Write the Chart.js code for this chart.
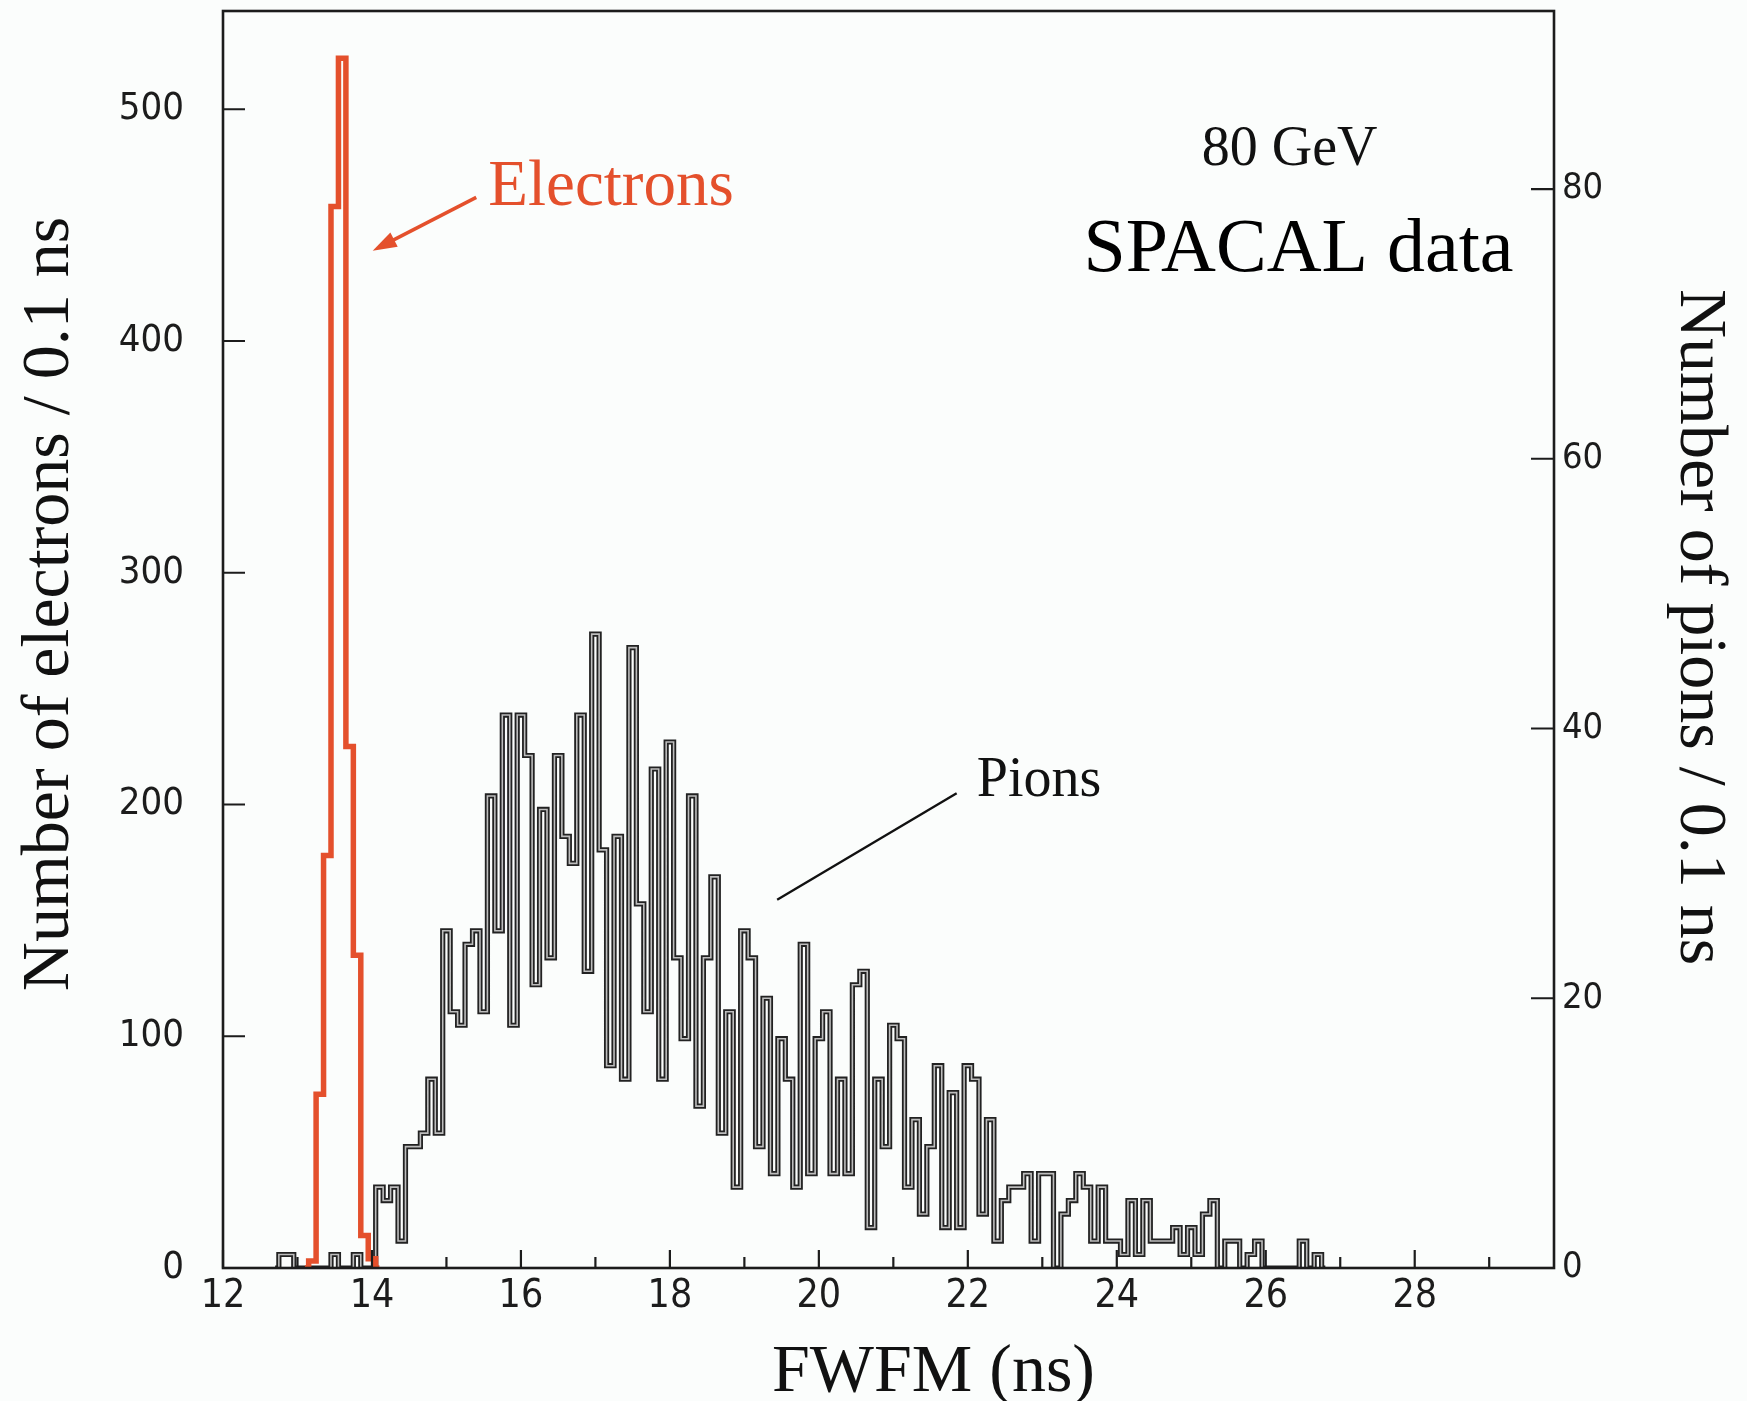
<!DOCTYPE html>
<html>
<head>
<meta charset="utf-8">
<script src="https://cdn.jsdelivr.net/npm/chart.js@4.4.1/dist/chart.umd.min.js"></script>
<style>
  html, body { margin: 0; padding: 0; background: #fbfdfc; }
  canvas { display: block; }
</style>
</head>
<body>
<canvas id="c" width="1747" height="1401"></canvas>
<script>
// FWFM histograms, 0.1 ns bins; each array starts at the given bin centre
const binWidth = 0.1;

const electronStart = 13.1;
const electronCounts = [0, 3, 75, 178, 458, 522, 225, 135, 14, 4, 0];

const pionStart = 12.7;
const pionCounts = [
  0, 1, 1, 0, 0, 0, 0, 0, 1, 0, 0, 1, 0, 0,            // 12.7 - 14.0
  6, 5, 6, 2, 9, 9, 10, 14, 10,                        // 14.1 - 14.9
  25, 19, 18, 24, 25, 19, 35, 25, 41, 18,              // 15.0 - 15.9
  41, 38, 21, 34, 23, 38, 32, 30, 41, 22,              // 16.0 - 16.9
  47, 31, 15, 32, 14, 46, 27, 19, 37, 14,              // 17.0 - 17.9
  39, 23, 17, 35, 12, 23, 29, 10, 19, 6,               // 18.0 - 18.9
  25, 23, 9, 20, 7, 17, 14, 6, 24, 7,                  // 19.0 - 19.9
  17, 19, 7, 14, 7, 21, 22, 3, 14, 9,                  // 20.0 - 20.9
  18, 17, 6, 11, 4, 9, 15, 3, 13, 3,                   // 21.0 - 21.9
  15, 14, 4, 11, 2, 5, 6, 6, 7, 2,                     // 22.0 - 22.9
  7, 7, 0, 4, 5, 7, 6, 2, 6, 2,                        // 23.0 - 23.9
  2, 1, 5, 1, 5, 2, 2, 2, 3, 1,                        // 24.0 - 24.9
  3, 1, 4, 5, 0, 2, 2, 0, 1, 2,                        // 25.0 - 25.9
  0, 0, 0, 0, 0, 2, 0, 1, 0                            // 26.0 - 26.8
];

// axis ticks
const xTicks = [12, 13, 14, 15, 16, 17, 18, 19, 20, 21, 22, 23, 24, 25, 26, 27, 28, 29];
const xLabelled = [12, 14, 16, 18, 20, 22, 24, 26, 28];
const electronTicks = [0, 100, 200, 300, 400, 500];
const pionTicks = [0, 20, 40, 60, 80];

const xRange = [12, 29.87];
const electronRange = [0, 542.4];
const pionRange = [0, 93.2];

function toPoints(start, counts) {
  return counts.map((c, i) => ({ x: Math.round((start + i * binWidth) * 100) / 100, y: c }));
}
const electronPoints = toPoints(electronStart, electronCounts);
const pionPoints = toPoints(pionStart, pionCounts);

const serif = "'Liberation Serif', 'Times New Roman', 'DejaVu Serif', serif";
const narrow = "'Liberation Sans Narrow', 'DejaVu Sans Condensed', 'Roboto Condensed', Roboto, sans-serif";
const red = '#e4502c';
const ink = '#1c1c1c';

// frame, inward ticks, axis titles and annotations
const decor = {
  id: 'decor',
  afterDatasetsDraw(chart) {
    const { ctx, chartArea: a, scales } = chart;
    const { x, y, y2 } = scales;
    ctx.save();

    ctx.strokeStyle = ink;
    ctx.lineWidth = 2.6;
    ctx.strokeRect(a.left, a.top, a.right - a.left, a.bottom - a.top);

    ctx.lineWidth = 2.2;
    ctx.beginPath();
    xTicks.forEach(v => {
      const px = x.getPixelForValue(v);
      const len = xLabelled.includes(v) ? 18 : 11;
      ctx.moveTo(px, a.bottom);
      ctx.lineTo(px, a.bottom - len);
    });
    electronTicks.forEach(v => {
      if (v === 0) return;
      const py = y.getPixelForValue(v);
      ctx.moveTo(a.left, py);
      ctx.lineTo(a.left + 22, py);
    });
    pionTicks.forEach(v => {
      if (v === 0) return;
      const py = y2.getPixelForValue(v);
      ctx.moveTo(a.right, py);
      ctx.lineTo(a.right - 23, py);
    });
    ctx.stroke();

    // axis titles
    ctx.fillStyle = '#111';
    ctx.textAlign = 'center';
    ctx.textBaseline = 'middle';
    ctx.font = '68px ' + serif;

    ctx.save();
    ctx.translate(50, 604);
    ctx.rotate(-Math.PI / 2);
    ctx.fillText('Number of electrons / 0.1 ns', 0, 0);
    ctx.restore();

    ctx.save();
    ctx.translate(1699, 627);
    ctx.rotate(Math.PI / 2);
    ctx.fillText('Number of pions / 0.1 ns', 0, 0);
    ctx.restore();

    ctx.fillText('FWFM (ns)', (a.left + a.right) / 2 + 45, 1373);

    // electron label with arrow
    ctx.fillStyle = red;
    ctx.font = '65px ' + serif;
    ctx.fillText('Electrons', x.getPixelForValue(17.21), y.getPixelForValue(466));

    const ax0 = x.getPixelForValue(15.40), ay0 = y.getPixelForValue(462);
    const ax1 = x.getPixelForValue(14.01), ay1 = y.getPixelForValue(439);
    const ang = Math.atan2(ay1 - ay0, ax1 - ax0);
    const head = 24, half = 8;
    ctx.strokeStyle = red;
    ctx.lineWidth = 3.5;
    ctx.beginPath();
    ctx.moveTo(ax0, ay0);
    ctx.lineTo(ax1 - Math.cos(ang) * head * 0.8, ay1 - Math.sin(ang) * head * 0.8);
    ctx.stroke();
    ctx.fillStyle = red;
    ctx.beginPath();
    ctx.moveTo(ax1, ay1);
    ctx.lineTo(ax1 - Math.cos(ang) * head - Math.sin(ang) * half, ay1 - Math.sin(ang) * head + Math.cos(ang) * half);
    ctx.lineTo(ax1 - Math.cos(ang) * head + Math.sin(ang) * half, ay1 - Math.sin(ang) * head - Math.cos(ang) * half);
    ctx.closePath();
    ctx.fill();

    // pion label with pointer
    ctx.fillStyle = '#111';
    ctx.strokeStyle = '#111';
    ctx.lineWidth = 2.4;
    ctx.beginPath();
    ctx.moveTo(x.getPixelForValue(21.85), y2.getPixelForValue(35.2));
    ctx.lineTo(x.getPixelForValue(19.44), y2.getPixelForValue(27.3));
    ctx.stroke();
    ctx.textAlign = 'left';
    ctx.font = '56px ' + serif;
    ctx.fillText('Pions', x.getPixelForValue(22.12), y2.getPixelForValue(36.1));

    ctx.textAlign = 'center';
    ctx.font = '56px ' + serif;
    ctx.fillText('80 GeV', x.getPixelForValue(26.32), y2.getPixelForValue(82.9));
    ctx.fillStyle = '#000';
    ctx.font = '76px ' + serif;
    ctx.fillText('SPACAL data', x.getPixelForValue(26.44), y2.getPixelForValue(75.4));

    ctx.restore();
  }
};

const stepLine = {
  stepped: 'middle',
  pointRadius: 0,
  fill: false,
  borderJoinStyle: 'miter',
  borderCapStyle: 'butt'
};

function noPadding(s) {
  s.paddingTop = 0;
  s.paddingBottom = 0;
  s.paddingLeft = 0;
  s.paddingRight = 0;
}

new Chart(document.getElementById('c'), {
  type: 'line',
  data: {
    datasets: [
      Object.assign({ label: 'Electrons', data: electronPoints, yAxisID: 'y',
        borderColor: red, borderWidth: 5.5, order: 0 }, stepLine),
      Object.assign({ label: 'Pions', data: pionPoints, yAxisID: 'y2',
        borderColor: '#bdbdbd', borderWidth: 1.6, order: 1 }, stepLine),
      Object.assign({ label: 'Pions outline', data: pionPoints, yAxisID: 'y2',
        borderColor: '#222222', borderWidth: 5.2, order: 2 }, stepLine)
    ]
  },
  options: {
    responsive: false,
    animation: false,
    devicePixelRatio: 1,
    events: [],
    layout: { padding: { top: 11, left: 0, right: 0, bottom: 0 } },
    plugins: { legend: { display: false }, tooltip: { enabled: false } },
    scales: {
      x: {
        type: 'linear',
        min: xRange[0], max: xRange[1],
        grid: { display: false, drawTicks: false },
        border: { display: false },
        afterBuildTicks: s => { s.ticks = xTicks.map(v => ({ value: v })); },
        afterFit: s => { s.height = 133; noPadding(s); },
        ticks: {
          autoSkip: false, maxRotation: 0, padding: 5, color: ink,
          font: { family: narrow, size: 39 },
          callback: v => (xLabelled.includes(v) ? String(v) : '')
        }
      },
      y: {
        type: 'linear', position: 'left',
        min: electronRange[0], max: electronRange[1],
        grid: { display: false, drawTicks: false },
        border: { display: false },
        afterBuildTicks: s => { s.ticks = electronTicks.map(v => ({ value: v })); },
        afterFit: s => { s.width = 223; noPadding(s); },
        ticks: { padding: 39, color: ink, font: { family: narrow, size: 38 } }
      },
      y2: {
        type: 'linear', position: 'right',
        min: pionRange[0], max: pionRange[1],
        grid: { display: false, drawTicks: false },
        border: { display: false },
        afterBuildTicks: s => { s.ticks = pionTicks.map(v => ({ value: v })); },
        afterFit: s => { s.width = 193; noPadding(s); },
        ticks: { padding: 8, color: ink, font: { family: narrow, size: 36 } }
      }
    }
  },
  plugins: [decor]
});
</script>
</body>
</html>
